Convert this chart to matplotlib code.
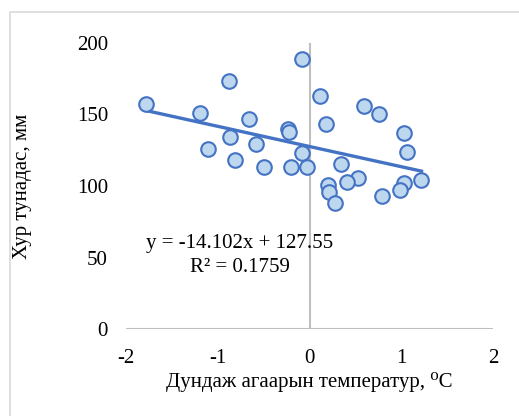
import numpy as np
import matplotlib.pyplot as plt
from matplotlib.patches import Rectangle

plt.rcParams['font.family'] = ['Liberation Serif', 'DejaVu Serif']
plt.rcParams['axes.unicode_minus'] = False

# temperature anomaly (C) and precipitation (mm)
temp = [-1.78, -1.19, -0.88, -0.66, -0.23, -0.22, -0.87, -0.58, -1.11, -0.81,
        -0.50, -0.20, -0.08, 0.11, 0.59, 0.76, 0.18, 1.03, -0.08, 1.06,
        -0.03, 0.34, 0.53, 0.41, 0.20, 0.21, 0.28, 0.79, 1.03, 0.99, 1.22]
precip = [157, 151, 173, 147, 140, 138, 134, 129, 126, 118,
          113.5, 113, 189, 163, 156, 150, 143, 137, 123, 124,
          113.5, 115, 105.6, 103, 100.5, 95.6, 88, 93, 102, 97.4, 104]

slope = -14.102
intercept = 127.55

fig = plt.figure(figsize=(5.19, 4.16), dpi=100)
ax = fig.add_axes([0.243, 0.209, 0.707, 0.688])

# frame around the whole chart
fig.patches.append(Rectangle((0.019, -0.1), 1.2, 1.071, transform=fig.transFigure,
                             fill=False, edgecolor='#d9d9d9', linewidth=1.2))

ax.axvline(0, color='#bfbfbf', linewidth=1.5, zorder=0)
ax.axhline(0, color='#bfbfbf', linewidth=1.5, zorder=0)

ax.scatter(temp, precip, s=110, facecolor='#bdd7ee', edgecolor='#4472c4',
           linewidth=1.5, zorder=3)

xs = np.array([min(temp), max(temp)])
ax.plot(xs, slope * xs + intercept, color='#4472c4', linewidth=2.4, zorder=2)

ax.text(-0.76, 60, 'y = -14.102x + 127.55', fontsize=15, ha='center', va='center')
ax.text(-0.76, 43, 'R² = 0.1759', fontsize=15, ha='center', va='center')

ax.set_xlim(-2, 2)
ax.set_ylim(0, 200)
ax.set_xticks([-2, -1, 0, 1, 2])
ax.set_yticks([0, 50, 100, 150, 200])
for s in ax.spines.values():
    s.set_visible(False)
ax.tick_params(length=0, labelsize=15)
ax.tick_params(axis='x', pad=14)
ax.tick_params(axis='y', pad=13)

fig.text(309 / 519, 1 - 382 / 416, 'Дундаж агаарын температур, ⁰C', fontsize=15,
         ha='center', va='center')
fig.text(23 / 519, 1 - 186 / 416, 'Хур тунадас, мм', fontsize=15,
         ha='center', va='center', rotation=90)

plt.savefig('out.png')
